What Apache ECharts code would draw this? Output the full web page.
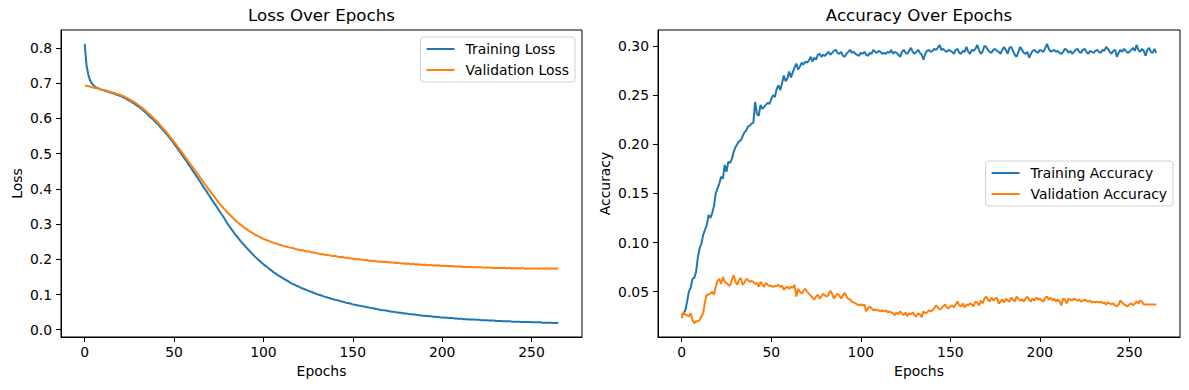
<!DOCTYPE html>
<html>
<head>
<meta charset="utf-8">
<script src="https://cdn.jsdelivr.net/npm/echarts/dist/echarts.min.js"></script>
<style>
html,body{margin:0;padding:0;background:#fff;}
#chart{width:1189px;height:390px;}
</style>
</head>
<body>
<div id="chart"></div>
<script>
// ---- data (one value per epoch, epochs 0..265) ----
const trainLoss = [
.811,.752,.724,.708,.699,.693,.689,.686,.684,.682,
.680,.679,.677,.676,.674,.672,.671,.669,.667,.665,
.663,.661,.658,.656,.653,.650,.647,.644,.641,.637,
.634,.630,.626,.621,.617,.612,.607,.602,.598,.593,
.588,.583,.577,.572,.566,.560,.554,.548,.541,.535,
.528,.521,.514,.507,.500,.492,.485,.478,.470,.463,
.455,.447,.440,.432,.425,.417,.409,.401,.394,.386,
.378,.370,.363,.355,.348,.340,.332,.325,.317,.309,
.300,.293,.286,.279,.272,.266,.260,.253,.247,.242,
.236,.230,.225,.219,.214,.209,.204,.199,.195,.190,
.186,.182,.178,.174,.170,.166,.162,.159,.155,.152,
.149,.146,.143,.140,.137,.134,.131,.129,.126,.124,
.122,.119,.117,.115,.113,.111,.109,.107,.105,.103,
.101,.099,.098,.096,.094,.093,.091,.090,.088,.087,
.085,.084,.083,.081,.080,.079,.077,.076,.075,.074,
.072,.071,.070,.069,.068,.067,.066,.065,.064,.063,
.062,.061,.060,.059,.058,.057,.056,.055,.055,.054,
.053,.052,.051,.051,.050,.049,.048,.048,.047,.046,
.046,.045,.044,.044,.043,.043,.042,.041,.041,.040,
.040,.039,.039,.038,.038,.037,.037,.036,.036,.035,
.035,.035,.034,.034,.033,.033,.033,.032,.032,.031,
.031,.031,.030,.030,.030,.029,.029,.029,.029,.028,
.028,.028,.027,.027,.027,.027,.026,.026,.026,.026,
.025,.025,.025,.025,.024,.024,.024,.024,.024,.023,
.023,.023,.023,.023,.022,.022,.022,.022,.022,.022,
.021,.021,.021,.021,.021,.021,.020,.020,.020,.020,
.020,.020,.019,.019,.019,.019
];
const valLoss = [
.693,.692,.691,.690,.688,.687,.686,.685,.684,.682,
.681,.680,.679,.677,.676,.674,.673,.671,.669,.668,
.666,.664,.662,.659,.657,.654,.651,.648,.645,.642,
.638,.634,.630,.626,.622,.617,.613,.608,.603,.598,
.593,.588,.582,.576,.571,.565,.559,.552,.546,.540,
.533,.527,.520,.513,.506,.499,.492,.485,.478,.471,
.464,.457,.450,.443,.436,.429,.422,.415,.408,.401,
.394,.387,.381,.374,.368,.361,.355,.349,.343,.338,
.332,.327,.322,.317,.312,.307,.303,.299,.295,.291,
.287,.284,.280,.277,.274,.271,.268,.266,.263,.261,
.258,.256,.254,.252,.250,.248,.246,.245,.243,.241,
.240,.238,.237,.236,.234,.233,.232,.231,.229,.228,
.227,.225,.226,.224,.222,.223,.221,.219,.220,.218,
.217,.216,.214,.215,.213,.212,.213,.211,.210,.209,
.210,.208,.207,.206,.207,.205,.204,.205,.203,.202,
.202,.201,.200,.201,.199,.199,.198,.197,.198,.196,
.196,.195,.196,.194,.194,.193,.194,.192,.193,.192,
.191,.192,.190,.191,.189,.190,.189,.188,.189,.187,
.188,.187,.187,.186,.187,.185,.186,.185,.185,.184,
.185,.183,.184,.183,.184,.182,.183,.182,.183,.181,
.182,.181,.182,.180,.181,.180,.181,.179,.180,.179,
.180,.179,.178,.179,.178,.178,.179,.177,.178,.177,
.178,.177,.177,.176,.177,.176,.177,.176,.176,.175,
.176,.175,.176,.175,.175,.176,.174,.175,.175,.174,
.175,.174,.175,.174,.174,.175,.174,.173,.174,.174,
.174,.173,.174,.174,.173,.174,.174,.173,.174,.174,
.173,.174,.174,.173,.174,.174
];
const trainAcc = [
.026,.028,.031,.040,.050,.054,.063,.064,.070,.085,
.094,.099,.108,.113,.118,.128,.125,.130,.137,.150,
.155,.160,.167,.165,.179,.172,.182,.181,.185,.192,
.197,.200,.203,.204,.208,.212,.214,.218,.219,.221,
.222,.243,.231,.229,.240,.236,.238,.240,.242,.241,
.246,.250,.248,.256,.260,.255,.262,.270,.264,.267,
.274,.268,.273,.278,.282,.276,.279,.283,.281,.284,
.283,.285,.289,.284,.288,.286,.291,.292,.289,.291,
.290,.292,.294,.291,.293,.295,.296,.293,.292,.294,
.290,.289,.292,.294,.296,.293,.294,.292,.291,.290,
.293,.292,.294,.291,.290,.293,.292,.296,.294,.293,
.295,.294,.292,.293,.292,.294,.293,.296,.292,.294,
.293,.291,.289,.294,.296,.293,.292,.295,.298,.294,
.292,.294,.296,.293,.291,.286,.292,.295,.296,.294,
.295,.297,.296,.298,.301,.296,.297,.295,.294,.296,
.295,.294,.292,.296,.297,.293,.292,.295,.294,.299,
.294,.292,.296,.295,.297,.301,.296,.292,.294,.300,
.299,.296,.294,.293,.296,.297,.295,.294,.292,.296,
.299,.296,.292,.298,.299,.295,.291,.289,.294,.299,
.296,.293,.292,.294,.288,.292,.295,.296,.294,.293,
.296,.295,.294,.298,.302,.297,.294,.295,.296,.294,
.295,.293,.292,.294,.297,.296,.293,.295,.292,.294,
.296,.297,.294,.293,.296,.297,.294,.292,.295,.294,
.293,.295,.296,.294,.293,.296,.295,.299,.297,.294,
.292,.295,.296,.289,.293,.296,.294,.297,.295,.293,
.294,.296,.298,.295,.301,.296,.294,.297,.295,.290,
.296,.298,.294,.293,.297,.293
];
const valAcc = [
.023,.029,.027,.026,.025,.028,.021,.018,.020,.020,
.021,.025,.028,.040,.047,.047,.048,.050,.047,.055,
.061,.063,.058,.065,.060,.059,.057,.056,.062,.067,
.060,.057,.062,.064,.057,.059,.063,.062,.060,.061,
.060,.058,.059,.055,.060,.057,.055,.059,.057,.056,
.056,.055,.056,.056,.057,.055,.056,.052,.054,.055,
.053,.055,.054,.057,.045,.053,.050,.048,.051,.053,
.050,.048,.046,.044,.042,.045,.047,.043,.045,.048,
.046,.045,.047,.051,.048,.043,.046,.048,.046,.043,
.046,.049,.045,.043,.042,.040,.039,.038,.037,.036,
.037,.036,.037,.030,.033,.035,.033,.031,.032,.031,
.031,.030,.031,.030,.031,.029,.030,.029,.028,.026,
.029,.027,.030,.028,.026,.029,.025,.028,.027,.029,
.026,.025,.028,.027,.024,.030,.028,.029,.031,.030,
.031,.033,.036,.034,.032,.033,.035,.037,.034,.033,
.035,.036,.034,.037,.040,.036,.035,.038,.034,.037,
.036,.038,.037,.035,.040,.039,.036,.041,.038,.043,
.045,.042,.040,.044,.041,.043,.044,.038,.040,.042,
.039,.043,.041,.040,.044,.042,.040,.045,.043,.041,
.042,.040,.043,.045,.042,.040,.043,.041,.044,.042,
.043,.041,.040,.044,.045,.042,.044,.041,.043,.040,
.042,.040,.036,.043,.042,.038,.043,.042,.041,.043,
.042,.041,.042,.040,.041,.042,.041,.040,.041,.039,
.040,.039,.040,.039,.040,.038,.039,.037,.039,.038,
.037,.038,.036,.035,.037,.041,.039,.037,.036,.035,
.037,.038,.036,.038,.040,.038,.041,.040,.037,.037,
.037,.037,.037,.037,.037,.037
];
const epochTicks = [0, 50, 100, 150, 200, 250];
const lossTicks = [0, 0.1, 0.2, 0.3, 0.4, 0.5, 0.6, 0.7, 0.8];
const accTicks = [0.05, 0.10, 0.15, 0.20, 0.25, 0.30];
const titles = ['Loss Over Epochs', 'Accuracy Over Epochs'];
const names = ['Training Loss', 'Validation Loss', 'Training Accuracy', 'Validation Accuracy'];

// ---- chart ----
const FONT = 'DejaVu Sans';
const BLUE = '#1f77b4', ORANGE = '#ff7f0e';
const pairs = arr => arr.map((v, i) => [i, v]);

function xAxisCfg(idx) {
  return {
    type: 'value', gridIndex: idx, min: -13.25, max: 278.25,
    name: 'Epochs', nameLocation: 'middle', nameGap: 26,
    nameTextStyle: {fontFamily: FONT, fontSize: 13.9, color: '#000'},
    axisLine: {show: true, onZero: false, lineStyle: {color: '#000', width: 1}},
    axisTick: {show: true, length: 5, lineStyle: {color: '#000', width: 1}, customValues: epochTicks},
    axisLabel: {show: true, margin: 8, fontFamily: FONT, fontSize: 13.9, color: '#000', customValues: epochTicks,
      formatter: v => String(v)},
    splitLine: {show: false}
  };
}
function yAxisCfg(idx, min, max, ticks, name, gap, dec) {
  return {
    type: 'value', gridIndex: idx, min: min, max: max,
    name: name, nameLocation: 'middle', nameGap: gap,
    nameTextStyle: {fontFamily: FONT, fontSize: 13.9, color: '#000'},
    axisLine: {show: true, onZero: false, lineStyle: {color: '#000', width: 1}},
    axisTick: {show: true, length: 5, lineStyle: {color: '#000', width: 1}, customValues: ticks},
    axisLabel: {show: true, margin: 9, fontFamily: FONT, fontSize: 13.9, color: '#000', customValues: ticks,
      formatter: v => Number(v).toFixed(dec)},
    splitLine: {show: false}
  };
}
function legendCfg(data, pos) {
  return Object.assign({
    data: data.map(n => ({name: n, icon: 'rect'})),
    orient: 'vertical', itemWidth: 28, itemHeight: 2, itemGap: 7,
    padding: [5, 6, 5, 6],
    backgroundColor: 'rgba(255,255,255,0.8)', borderColor: '#d0d0d0', borderWidth: 1, borderRadius: 3,
    textStyle: {fontFamily: FONT, fontSize: 13.9, color: '#000', padding: [0, 0, 0, 6], lineHeight: 14},
    selectedMode: false
  }, pos);
}
function lineSeries(name, data, color, xi, yi) {
  return {
    type: 'line', name: name, data: pairs(data), xAxisIndex: xi, yAxisIndex: yi,
    symbol: 'none', showSymbol: false, smooth: false,
    lineStyle: {color: color, width: 2}, itemStyle: {color: color},
    emphasis: {disabled: true}, z: 3
  };
}

const chart = echarts.init(document.getElementById('chart'), null, {renderer: 'svg', width: 1189, height: 390});
chart.setOption({
  animation: false,
  backgroundColor: '#fff',
  textStyle: {fontFamily: FONT},
  title: [
    {text: titles[0], left: 321.5, top: 7, textAlign: 'center', padding: 0,
      textStyle: {fontFamily: FONT, fontSize: 16.67, fontWeight: 'normal', color: '#000'}},
    {text: titles[1], left: 919, top: 7, textAlign: 'center', padding: 0,
      textStyle: {fontFamily: FONT, fontSize: 16.67, fontWeight: 'normal', color: '#000'}}
  ],
  grid: [
    {left: 61, top: 30, width: 521, height: 307, show: true, borderColor: '#000', borderWidth: 1,
      backgroundColor: 'transparent', containLabel: false, outerBoundsMode: 'none'},
    {left: 658, top: 30, width: 522, height: 307, show: true, borderColor: '#000', borderWidth: 1,
      backgroundColor: 'transparent', containLabel: false, outerBoundsMode: 'none'}
  ],
  xAxis: [xAxisCfg(0), xAxisCfg(1)],
  yAxis: [
    yAxisCfg(0, -0.0206, 0.8506, lossTicks, 'Loss', 37, 1),
    yAxisCfg(1, 0.0039, 0.3162, accTicks, 'Accuracy', 46, 2)
  ],
  legend: [
    legendCfg([names[0], names[1]], {right: 614, top: 37}),
    legendCfg([names[2], names[3]], {right: 16, top: 161})
  ],
  series: [
    lineSeries(names[0], trainLoss, BLUE, 0, 0),
    lineSeries(names[1], valLoss, ORANGE, 0, 0),
    lineSeries(names[2], trainAcc, BLUE, 1, 1),
    lineSeries(names[3], valAcc, ORANGE, 1, 1)
  ]
});
</script>
</body>
</html>
